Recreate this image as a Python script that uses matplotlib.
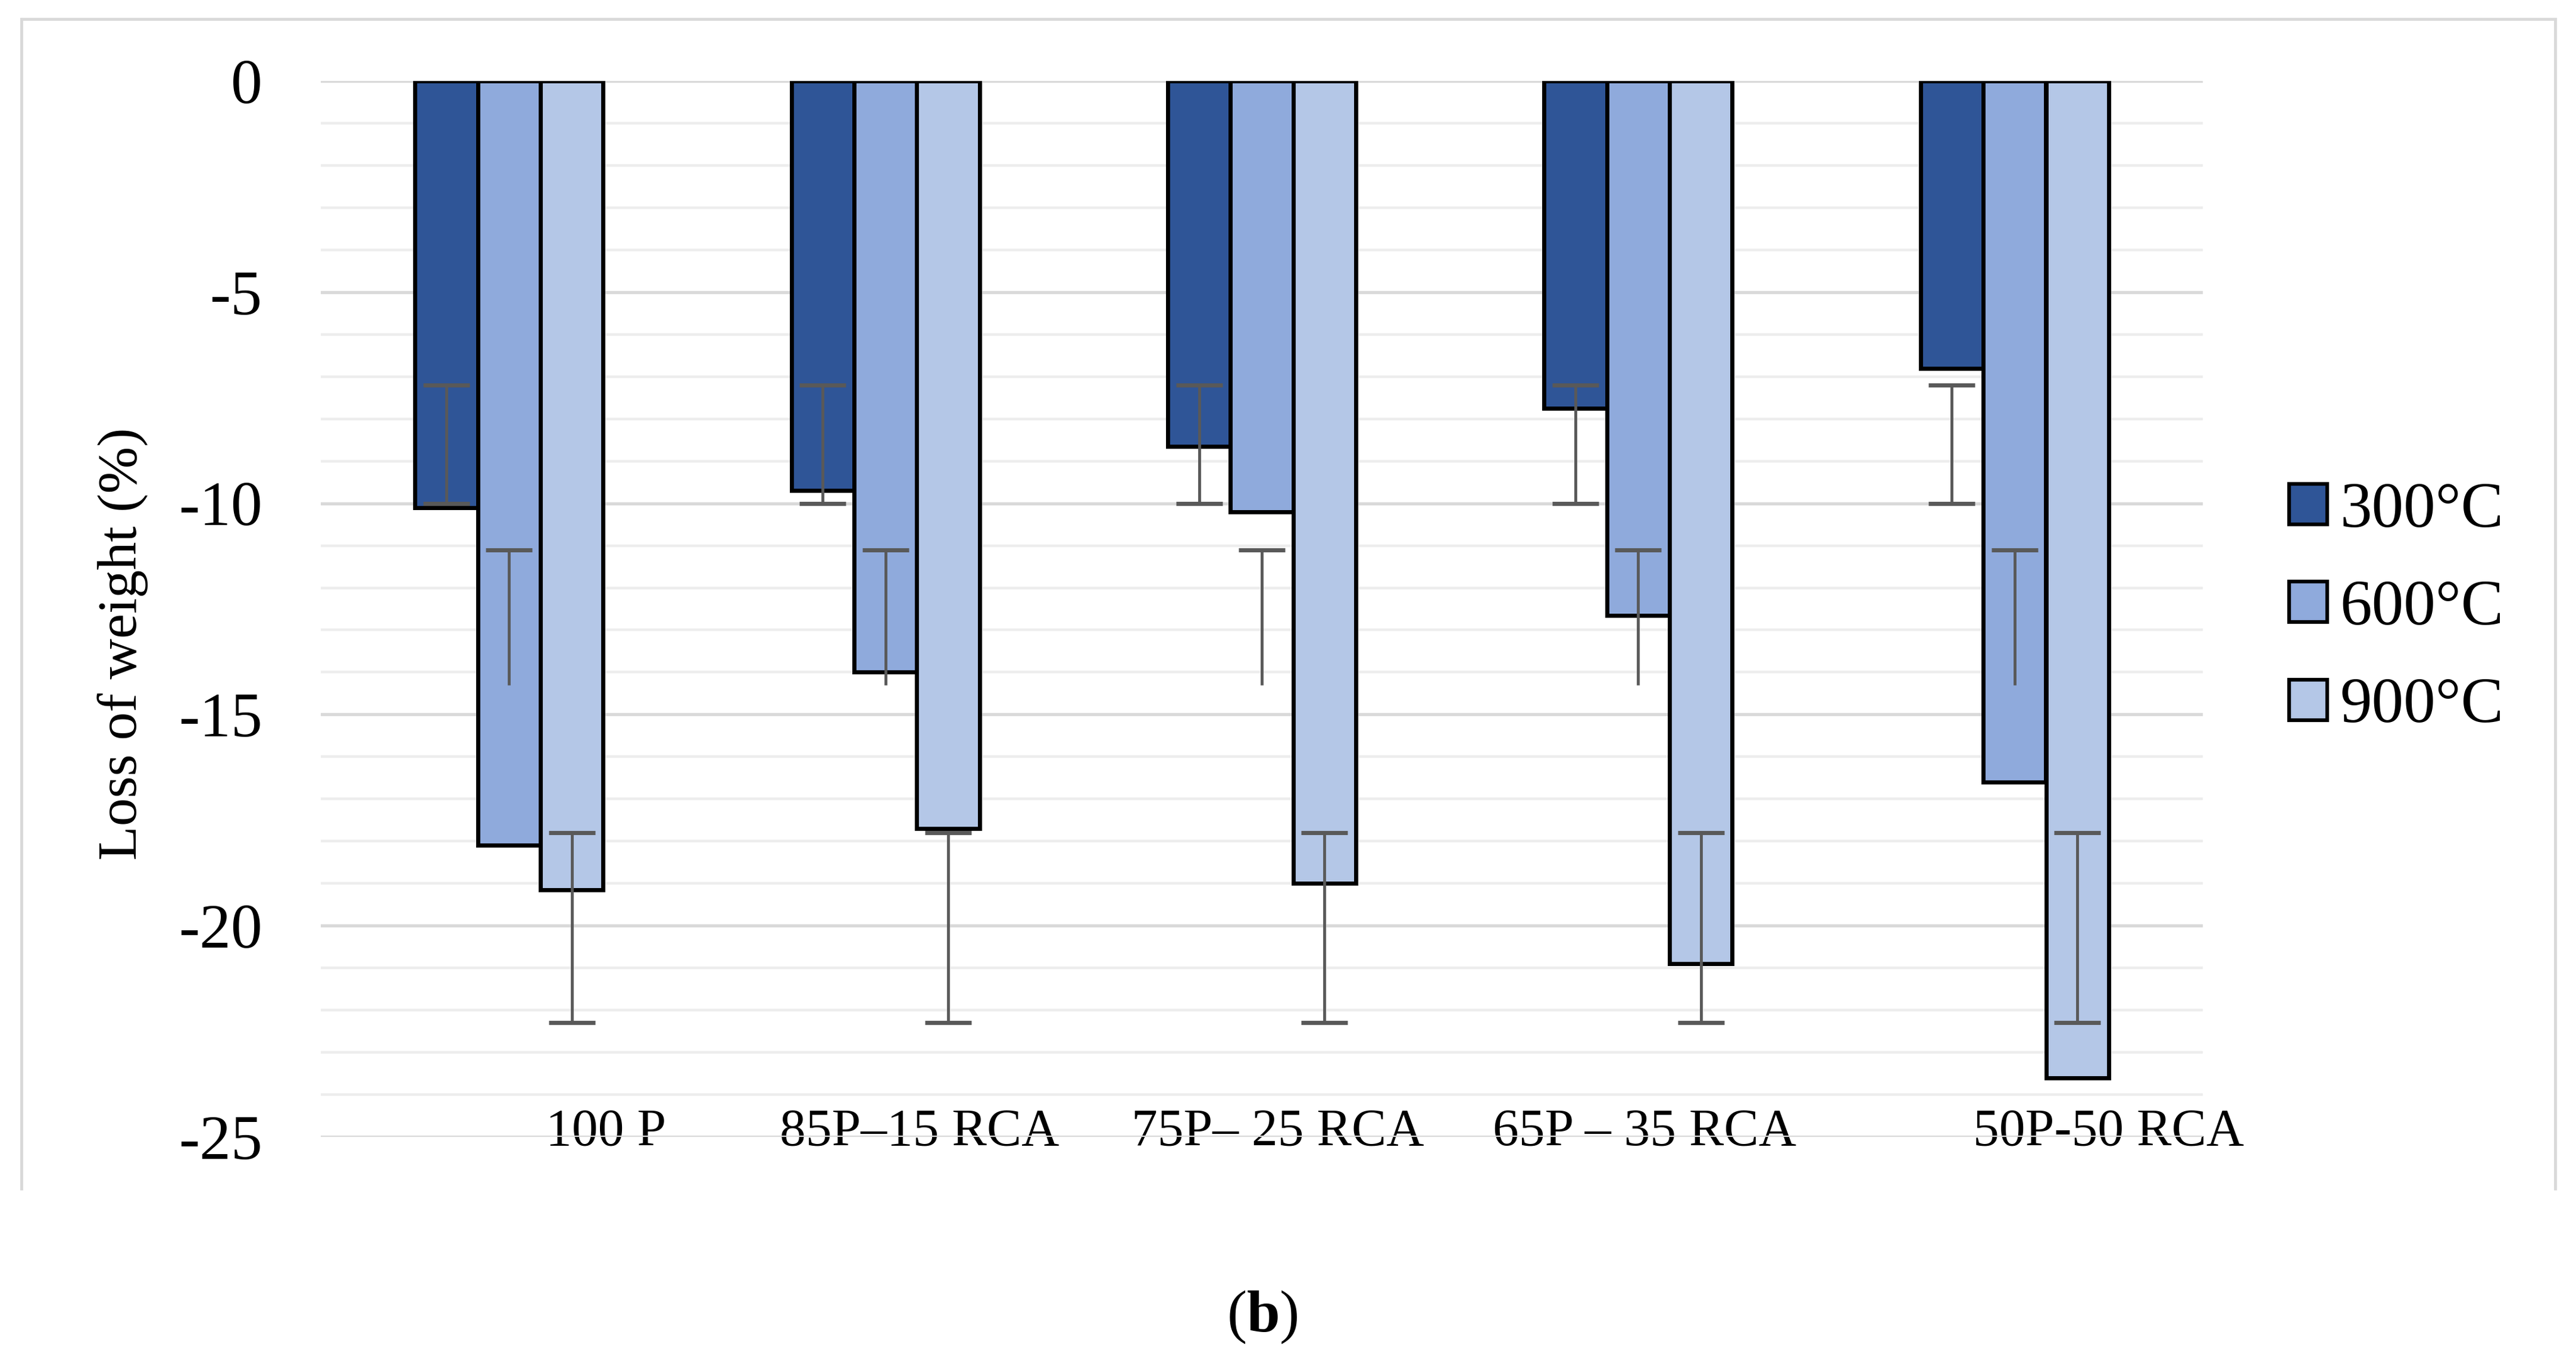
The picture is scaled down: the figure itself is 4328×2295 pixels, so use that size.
import numpy as np
import matplotlib
matplotlib.use("Agg")
import matplotlib.pyplot as plt
from matplotlib.lines import Line2D
from matplotlib.patches import Patch

plt.rcParams['font.family'] = ['Liberation Serif', 'DejaVu Serif']
plt.rcParams['axes.unicode_minus'] = False
plt.rcParams['mathtext.fontset'] = 'custom'
plt.rcParams['mathtext.rm'] = 'Liberation Serif'
plt.rcParams['mathtext.bf'] = 'Liberation Serif:bold'

# data
categories = ['100 P', '85P\u201315 RCA', '75P\u2013 25 RCA', '65P \u2013 35 RCA', '50P-50 RCA']
series = ['300°C', '600°C', '900°C']
loss_300 = [-10.1, -9.7, -8.65, -7.75, -6.8]
loss_600 = [-18.1, -14.0, -10.2, -12.65, -16.6]
loss_900 = [-19.15, -17.7, -19.0, -20.9, -23.6]
# error bars (same range in every group, as in the figure)
err_low = [-10.0, -14.3, -22.3]
err_high = [-7.2, -11.1, -17.8]

colors = ['#2F5597', '#8FAADC', '#B4C7E7']
label_shift = [0.258, 0.09, 0.043, 0.016, 0.25]

fig = plt.figure(figsize=(43.28, 22.95), dpi=100)
ax = fig.add_axes([539 / 4328, 385 / 2295, 3162 / 4328, 1774 / 2295])

x = np.arange(len(categories))
w = 1 / 6
all_vals = [loss_300, loss_600, loss_900]
for j, vals in enumerate(all_vals):
    pos = x + (j - 1) * w
    ax.bar(pos, vals, width=w, color=colors[j], edgecolor='black', linewidth=5, zorder=2)
    mid = (err_low[j] + err_high[j]) / 2
    half = (err_high[j] - err_low[j]) / 2
    eb = ax.errorbar(pos, [mid] * len(pos), yerr=half, fmt='none', ecolor='#595959',
                     elinewidth=3.5, capsize=28, capthick=5, zorder=3)
    if j == 1:
        # 600°C bars show only the upper cap
        eb[1][0].set_visible(False)

ax.set_xlim(-0.5, len(categories) - 0.5)
ax.set_ylim(-25, 0)
ax.set_yticks(np.arange(-25, 1, 5))
ax.set_yticks(np.arange(-25, 1, 1), minor=True)
ax.grid(which='major', axis='y', color='#D9D9D9', linewidth=3.8)
ax.grid(which='minor', axis='y', color='#EDEDED', linewidth=3.2)
ax.set_axisbelow(True)
for s in ax.spines.values():
    s.set_visible(False)

ax.set_xticks(x + np.array(label_shift))
ax.set_xticklabels(categories, fontsize=63)
for lab in ax.get_xticklabels():
    lab.set_va('center')
ax.tick_params(axis='x', length=0, pad=-6)
ax.tick_params(axis='y', which='both', length=0, pad=71, labelsize=76)

fig.text(206 / 4328, 1 - 1082 / 2295, 'Loss of weight (%)', rotation=90,
         ha='center', va='center', fontsize=68)

handles = [Patch(facecolor=c, edgecolor='black', linewidth=4.5) for c in colors]
fig.legend(handles, series, loc='center left', bbox_to_anchor=(3846 / 4328, 1 - 1023 / 2295),
           frameon=False, fontsize=77, handlelength=0.6, handleheight=0.6,
           handletextpad=0.2, labelspacing=0.62, borderpad=0, borderaxespad=0)

# chart area border
bc = '#D9D9D9'
fig.add_artist(Line2D([36 / 4328, 36 / 4328], [1 - 1997 / 2295, 1 - 32 / 2295], color=bc, lw=3.5))
fig.add_artist(Line2D([36 / 4328, 4293 / 4328], [1 - 32 / 2295, 1 - 32 / 2295], color=bc, lw=3.5))
fig.add_artist(Line2D([4293 / 4328, 4293 / 4328], [1 - 1997 / 2295, 1 - 32 / 2295], color=bc, lw=3.5))

fig.text(2121 / 4328, 1 - 2213 / 2295, r'($\mathbf{b}$)', ha='center', va='center', fontsize=72)

fig.savefig('out.png', dpi=100)
